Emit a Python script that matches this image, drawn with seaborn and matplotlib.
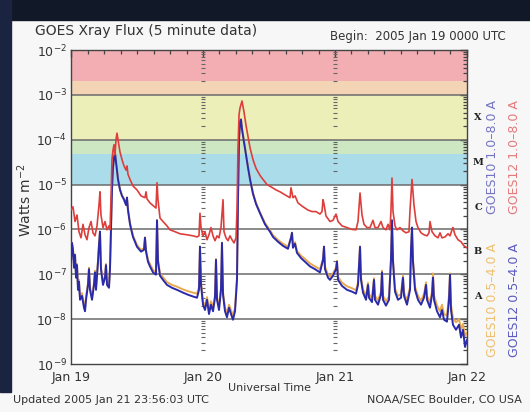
import numpy as np
import matplotlib
matplotlib.use("Agg")
import matplotlib.pyplot as plt
import matplotlib.transforms as mtransforms
from matplotlib.patches import Rectangle
from matplotlib.ticker import FixedLocator, LogLocator, NullFormatter
import seaborn as sns

# ---------------------------------------------------------------
# GOES X-ray flux, 5 minute data, starting 2005 Jan 19 00:00 UTC.
# Times are hours since the start, flux in W m^-2.
# ---------------------------------------------------------------
g12_long_hours = [
    0.0, 0.36, 0.73, 1.09, 1.45, 1.82, 2.18, 2.55, 2.91, 3.27, 3.64, 4.0, 4.36, 4.73,
    5.09, 5.27, 5.45, 5.82, 6.18, 6.55, 6.91, 7.09, 7.27, 7.45, 7.64, 7.82, 8.0, 8.18,
    8.36, 8.55, 8.91, 9.27, 9.64, 10.0, 10.18, 10.36, 10.73, 11.27, 12.0, 12.73, 13.45,
    13.64, 13.82, 14.36, 14.91, 15.45, 15.64, 15.82, 16.18, 16.73, 17.45, 18.0, 18.91,
    19.82, 21.09, 22.18, 22.91, 23.27, 23.45, 23.64, 24.0, 24.36, 24.73, 25.09, 25.45,
    25.82, 26.18, 26.55, 26.91, 27.27, 27.64, 27.82, 28.18, 28.55, 28.91, 29.27, 29.64,
    30.0, 30.18, 30.36, 30.55, 30.73, 31.09, 31.45, 31.82, 32.18, 32.55, 33.09, 33.64,
    34.36, 34.91, 35.64, 36.36, 37.27, 38.0, 38.91, 39.82, 40.0, 40.36, 40.73, 41.27,
    42.18, 43.09, 43.82, 44.55, 45.27, 45.64, 45.82, 46.0, 46.36, 47.09, 47.64, 48.18,
    48.55, 49.27, 50.18, 51.09, 51.82, 52.18, 52.55, 52.91, 53.27, 53.82, 54.36, 54.91,
    55.27, 55.82, 56.36, 56.73, 57.27, 57.64, 58.0, 58.18, 58.36, 58.55, 58.91, 59.27,
    59.82, 60.36, 60.91, 61.45, 61.64, 62.0, 62.36, 62.73, 63.09, 63.64, 64.18, 64.73,
    65.09, 65.27, 65.64, 66.18, 66.73, 67.09, 67.45, 68.0, 68.55, 68.91, 69.27, 69.45,
    69.82, 70.36, 70.91, 71.45, 72.0,
]
g12_long_flux = [
    2.7e-6, 3.2e-6, 1.5e-6, 2.1e-6, 8.9e-7, 6.5e-7, 1.3e-6, 7.6e-7, 5.9e-7, 1.1e-6,
    1.5e-6, 8.4e-7, 7.2e-7, 1.2e-6, 3.5e-6, 6.9e-6, 2.1e-6, 1.1e-6, 1.5e-6, 9.8e-7,
    1.2e-6, 9.8e-7, 4.6e-6, 3.6e-5, 5.9e-5, 7.7e-5, 4.6e-5, 9.9e-5, 1.4e-4, 9.9e-5,
    5.3e-5, 3.6e-5, 2.6e-5, 2.1e-5, 2.6e-5, 1.7e-5, 1.3e-5, 9.3e-6, 7.6e-6, 5.6e-6,
    5.1e-6, 6.9e-6, 4.8e-6, 3.9e-6, 3.4e-6, 3.0e-6, 1.1e-5, 4.6e-6, 1.8e-6, 1.5e-6,
    1.2e-6, 9.8e-7, 8.9e-7, 8.0e-7, 7.6e-7, 7.2e-7, 6.8e-7, 7.2e-7, 2.3e-6, 1.1e-6,
    7.2e-7, 8.9e-7, 5.9e-7, 7.6e-7, 1.1e-6, 7.2e-7, 5.6e-7, 7.2e-7, 6.5e-7, 1.1e-6,
    4.6e-6, 8.9e-7, 6.5e-7, 5.6e-7, 7.2e-7, 5.9e-7, 5.0e-7, 6.5e-7, 2.7e-6, 5.9e-5,
    3.6e-4, 5.1e-4, 7.3e-4, 4.2e-4, 2.1e-4, 1.2e-4, 6.6e-5, 3.6e-5, 2.3e-5, 1.6e-5,
    1.3e-5, 1.0e-5, 8.9e-6, 7.6e-6, 6.9e-6, 5.9e-6, 5.1e-6, 8.5e-6, 5.1e-6, 5.6e-6,
    3.9e-6, 3.2e-6, 2.7e-6, 2.5e-6, 2.5e-6, 2.2e-6, 2.5e-6, 4.6e-6, 3.7e-6, 2.0e-6,
    1.5e-6, 1.6e-6, 2.2e-6, 1.5e-6, 1.2e-6, 1.1e-6, 1.0e-6, 9.8e-7, 1.5e-6, 6.5e-6,
    2.1e-6, 1.3e-6, 1.1e-6, 1.1e-6, 1.6e-6, 1.1e-6, 1.1e-6, 1.5e-6, 1.1e-6, 9.8e-7,
    1.3e-6, 9.8e-7, 2.7e-6, 1.4e-5, 2.5e-6, 1.2e-6, 9.8e-7, 1.1e-6, 9.3e-7, 8.4e-7,
    8.9e-7, 2.7e-6, 1.3e-5, 3.5e-6, 1.5e-6, 1.1e-6, 8.4e-7, 7.6e-7, 7.2e-7, 8.4e-7,
    1.5e-6, 8.9e-7, 7.2e-7, 6.5e-7, 8.4e-7, 6.5e-7, 6.8e-7, 8.0e-7, 7.2e-7, 9.8e-7,
    1.1e-6, 7.6e-7, 5.9e-7, 5.3e-7, 4.3e-7, 3.9e-7,
]

g12_short_hours = [
    0.0, 0.18, 0.36, 0.55, 0.73, 0.91, 1.09, 1.27, 1.45, 1.64, 2.0, 2.36, 2.55, 2.73,
    3.09, 3.27, 3.45, 3.82, 4.18, 4.36, 4.55, 4.91, 5.09, 5.27, 5.45, 5.82, 6.18, 6.36,
    6.55, 6.91, 7.09, 7.27, 7.45, 7.64, 7.82, 8.0, 8.18, 8.55, 8.91, 9.27, 9.64, 10.0,
    10.18, 10.36, 10.73, 11.27, 12.0, 12.73, 13.27, 13.45, 13.64, 14.0, 14.36, 14.91,
    15.45, 15.64, 15.82, 16.18, 16.73, 17.45, 18.36, 19.27, 20.36, 21.27, 22.18, 22.91,
    23.27, 23.45, 23.64, 24.0, 24.36, 24.73, 25.09, 25.45, 25.82, 26.18, 26.36, 26.55,
    26.91, 27.27, 27.45, 27.64, 28.0, 28.36, 28.73, 29.09, 29.45, 29.82, 30.18, 30.36,
    30.55, 30.73, 30.91, 31.09, 31.45, 31.82, 32.18, 32.55, 33.09, 33.64, 34.36, 35.27,
    36.18, 36.73, 37.64, 38.55, 39.45, 40.0, 40.18, 40.36, 40.73, 41.09, 41.82, 42.55,
    43.45, 44.36, 45.27, 45.82, 46.0, 46.18, 46.73, 47.09, 47.64, 48.18, 48.36, 48.55,
    49.27, 50.18, 51.09, 51.82, 52.18, 52.55, 52.73, 53.09, 53.64, 54.0, 54.18, 54.73,
    55.09, 55.27, 55.82, 56.36, 56.55, 56.73, 57.27, 57.82, 58.18, 58.36, 58.55, 58.91,
    59.45, 60.0, 60.36, 60.55, 61.09, 61.64, 61.82, 62.0, 62.18, 62.55, 63.09, 63.64,
    64.18, 64.55, 64.73, 65.27, 65.64, 65.82, 66.0, 66.55, 67.09, 67.45, 67.82, 68.36,
    68.73, 68.91, 69.09, 69.45, 70.0, 70.55, 70.91, 71.27, 71.64, 72.0,
]
g12_short_flux = [
    1.9e-7, 5.0e-7, 3.5e-7, 1.4e-7, 2.7e-7, 8.4e-8, 1.6e-7, 4.5e-8, 6.8e-8, 2.7e-8,
    3.3e-8, 1.8e-8, 1.5e-8, 2.7e-8, 5.8e-8, 1.3e-7, 4.5e-8, 2.7e-8, 5.8e-8, 1.1e-7,
    4.5e-8, 1.9e-7, 4.5e-7, 8.9e-7, 1.3e-7, 5.8e-8, 8.4e-8, 1.6e-7, 5.8e-8, 5.0e-8,
    1.3e-7, 9.8e-7, 7.6e-6, 2.4e-5, 3.9e-5, 5.1e-5, 3.2e-5, 1.3e-5, 7.6e-6, 5.6e-6,
    4.6e-6, 3.5e-6, 5.1e-6, 2.7e-6, 1.3e-6, 6.8e-7, 4.1e-7, 3.2e-7, 3.5e-7, 6.5e-7,
    3.2e-7, 1.9e-7, 1.5e-7, 1.1e-7, 9.8e-8, 1.6e-6, 1.9e-7, 9.3e-8, 7.5e-8, 5.8e-8,
    5.0e-8, 4.5e-8, 3.9e-8, 3.5e-8, 3.2e-8, 3.0e-8, 4.5e-8, 4.1e-7, 5.8e-8, 2.1e-8,
    1.6e-8, 2.7e-8, 1.3e-8, 2.1e-8, 1.5e-8, 3.0e-8, 2.1e-7, 2.7e-8, 1.6e-8, 4.5e-8,
    5.0e-7, 3.5e-8, 1.5e-8, 1.1e-8, 1.8e-8, 1.3e-8, 9.7e-9, 1.5e-8, 7.5e-8, 4.6e-6,
    9.9e-5, 2.5e-4, 2.8e-4, 1.7e-4, 8.9e-5, 4.6e-5, 2.4e-5, 1.3e-5, 6.2e-6, 3.7e-6,
    2.3e-6, 1.3e-6, 8.9e-7, 6.8e-7, 5.3e-7, 4.3e-7, 3.7e-7, 6.5e-7, 8.4e-7, 3.9e-7,
    4.8e-7, 3.0e-7, 2.3e-7, 1.9e-7, 1.5e-7, 1.3e-7, 1.1e-7, 2.1e-7, 4.1e-7, 1.3e-7,
    8.4e-8, 7.5e-8, 9.3e-8, 1.3e-7, 1.9e-7, 7.5e-8, 5.5e-8, 4.5e-8, 4.1e-8, 3.7e-8,
    5.8e-8, 4.1e-7, 7.5e-8, 3.9e-8, 2.7e-8, 5.8e-8, 3.0e-8, 2.4e-8, 7.5e-8, 2.7e-8,
    2.1e-8, 3.5e-8, 1.1e-7, 2.7e-8, 2.0e-8, 2.7e-8, 2.1e-7, 1.6e-6, 1.9e-7, 4.1e-8,
    2.7e-8, 3.0e-8, 8.4e-8, 3.3e-8, 2.1e-8, 4.5e-8, 3.5e-7, 1.1e-6, 1.9e-7, 4.5e-8,
    2.7e-8, 2.1e-8, 3.0e-8, 5.8e-8, 2.7e-8, 1.8e-8, 3.5e-8, 8.4e-8, 2.7e-8, 1.5e-8,
    1.1e-8, 1.6e-8, 9.7e-9, 8.8e-9, 2.7e-8, 9.8e-8, 1.6e-8, 7.5e-9, 5.8e-9, 7.5e-9,
    3.9e-9, 5.8e-9, 2.4e-9, 3.5e-9,
]

# GOES10 short channel, sampled at the same times as GOES12
g10_short_hours = list(g12_short_hours)
g10_short_flux = [
    2.1e-7, 5.0e-7, 3.6e-7, 1.6e-7, 2.8e-7, 9.5e-8, 1.7e-7, 5.2e-8, 7.5e-8, 3.1e-8,
    3.8e-8, 2.1e-8, 1.8e-8, 3.1e-8, 6.4e-8, 1.4e-7, 5.2e-8, 3.1e-8, 6.4e-8, 1.2e-7,
    5.2e-8, 2.0e-7, 4.6e-7, 9.0e-7, 1.4e-7, 6.5e-8, 9.2e-8, 1.7e-7, 6.5e-8, 5.7e-8,
    1.4e-7, 1.0e-6, 7.8e-6, 2.5e-5, 4.0e-5, 5.3e-5, 3.3e-5, 1.35e-5, 7.9e-6, 5.8e-6,
    4.8e-6, 3.6e-6, 5.2e-6, 2.8e-6, 1.4e-6, 7.3e-7, 4.5e-7, 3.5e-7, 3.8e-7, 6.7e-7,
    3.5e-7, 2.1e-7, 1.7e-7, 1.25e-7, 1.1e-7, 1.6e-6, 2.1e-7, 1.05e-7, 8.6e-8, 6.7e-8,
    5.8e-8, 5.3e-8, 4.6e-8, 4.2e-8, 3.9e-8, 3.7e-8, 5.2e-8, 4.2e-7, 6.6e-8, 2.5e-8,
    1.9e-8, 3.1e-8, 1.6e-8, 2.5e-8, 1.8e-8, 3.4e-8, 2.2e-7, 3.1e-8, 1.9e-8, 5.0e-8,
    5.1e-7, 4.0e-8, 1.8e-8, 1.35e-8, 2.1e-8, 1.6e-8, 1.2e-8, 1.8e-8, 8.2e-8, 4.7e-6,
    1.0e-4, 2.6e-4, 2.9e-4, 1.8e-4, 9.3e-5, 4.8e-5, 2.5e-5, 1.4e-5, 6.6e-6, 3.9e-6,
    2.4e-6, 1.4e-6, 9.6e-7, 7.4e-7, 5.8e-7, 4.8e-7, 4.1e-7, 6.7e-7, 8.5e-7, 4.3e-7,
    5.2e-7, 3.3e-7, 2.6e-7, 2.2e-7, 1.75e-7, 1.5e-7, 1.3e-7, 2.2e-7, 4.2e-7, 1.5e-7,
    9.8e-8, 8.8e-8, 1.05e-7, 1.4e-7, 2.0e-7, 8.8e-8, 6.5e-8, 5.4e-8, 4.9e-8, 4.4e-8,
    6.6e-8, 4.2e-7, 8.5e-8, 4.6e-8, 3.3e-8, 6.5e-8, 3.6e-8, 2.9e-8, 8.2e-8, 3.3e-8,
    2.6e-8, 4.1e-8, 1.2e-7, 3.3e-8, 2.5e-8, 3.2e-8, 2.2e-7, 1.6e-6, 2.1e-7, 4.8e-8,
    3.3e-8, 3.6e-8, 9.3e-8, 3.9e-8, 2.6e-8, 5.2e-8, 3.6e-7, 1.1e-6, 2.1e-7, 5.3e-8,
    3.3e-8, 2.6e-8, 3.6e-8, 6.6e-8, 3.3e-8, 2.3e-8, 4.2e-8, 1.05e-7, 3.4e-8, 2.0e-8,
    1.5e-8, 2.1e-8, 1.3e-8, 1.2e-8, 3.4e-8, 1.05e-7, 2.1e-8, 1.05e-8, 8.5e-9, 1.0e-8,
    6.0e-9, 7.8e-9, 4.2e-9, 5.0e-9,
]

day_labels = ["Jan 19", "Jan 20", "Jan 21", "Jan 22"]
day_hours = [0, 24, 48, 72]

# flare class levels (lower bound of each class)
class_names = ["X", "M", "C", "B", "A"]
class_levels = [1e-4, 1e-5, 1e-6, 1e-7, 1e-8]
grid_levels = [1e-3, 1e-4, 1e-5, 1e-6, 1e-7, 1e-8]

# coloured background bands (low, high, colour)
band_low = [2.0e-3, 1e-3, 1e-4, 4.7e-5, 1e-5]
band_high = [1e-2, 2.0e-3, 1e-3, 1e-4, 4.7e-5]
band_colors = ["#F2AEB3", "#F3D5B6", "#EDEFB9", "#CDE7C3", "#ABDCEA"]

W, H = 530, 412

sns.set_theme(style="white")
plt.rcParams["font.family"] = ["DejaVu Sans"]
plt.rcParams["mathtext.fontset"] = "dejavusans"

fig = plt.figure(figsize=(W / 100, H / 100), dpi=100, facecolor="#F7F7F8")
ax = fig.add_axes([71 / W, 1 - 364 / H, 396 / W, 314 / H])
ax.set_facecolor("white")
ax.set_yscale("log")
ax.set_xlim(0, 72)
ax.set_ylim(1e-9, 1e-2)

for lo, hi, c in zip(band_low, band_high, band_colors):
    ax.axhspan(lo, hi, color=c, lw=0, zorder=0)
for lev in grid_levels:
    ax.axhline(lev, color="#6B6B6B", lw=1.1, zorder=1)

# log tick marks repeated along the day boundaries
minor_vals = [m * 10.0 ** e for e in range(-9, -2) for m in range(2, 10)]
for d in day_hours[1:3]:
    ax.plot([d] * len(minor_vals), minor_vals, ls="none", marker="_",
            ms=3, mew=0.8, color="#666666", zorder=2)

sns.lineplot(x=g10_short_hours, y=g10_short_flux, ax=ax, color="#E9A94F",
             lw=1.4, estimator=None, sort=False, legend=False, zorder=3)
sns.lineplot(x=g12_short_hours, y=g12_short_flux, ax=ax, color="#2B2BAA",
             lw=1.4, estimator=None, sort=False, legend=False, zorder=4)
sns.lineplot(x=g12_long_hours, y=g12_long_flux, ax=ax, color="#DE3E3B",
             lw=1.2, estimator=None, sort=False, legend=False, zorder=5)

ax.set_xticks(day_hours)
ax.set_xticklabels(day_labels)
ax.xaxis.set_minor_locator(FixedLocator(list(range(0, 73, 3))))
ax.yaxis.set_major_locator(LogLocator(base=10, numticks=20))
ax.yaxis.set_minor_locator(LogLocator(base=10, subs=np.arange(2, 10), numticks=20))
ax.yaxis.set_minor_formatter(NullFormatter())
ax.tick_params(which="both", direction="in", top=True, right=True,
               color="#444444", labelcolor="#333333", labelsize=9)
ax.tick_params(which="major", length=5, width=1)
ax.tick_params(which="minor", length=3, width=0.9)
ax.tick_params(axis="x", which="major", pad=5)
ax.tick_params(axis="y", which="major", pad=3)
for s in ax.spines.values():
    s.set_color("#444444")
    s.set_linewidth(1.0)

# flare class letters beside the right axis
trans = mtransforms.blended_transform_factory(ax.transAxes, ax.transData)
for name, lev in zip(class_names, class_levels):
    ax.text(1.028, lev * 10 ** 0.5, name, transform=trans, ha="center",
            va="center", fontsize=7, fontweight="bold",
            family="DejaVu Serif", color="#222222")

# dark screen frame
fig.add_artist(Rectangle((0, 1 - 20 / H), 1, 20 / H, transform=fig.transFigure,
                         color="#111827", zorder=10))
fig.add_artist(Rectangle((0, 1 - 392 / H), 11 / W, 392 / H, transform=fig.transFigure,
                         color="#1A2440", zorder=10))

tc = "#333333"
fig.text(35 / W, 1 - 35 / H, "GOES Xray Flux (5 minute data)", fontsize=10,
         color=tc, va="baseline", ha="left")
fig.text(330 / W, 1 - 40 / H, "Begin:  2005 Jan 19 0000 UTC", fontsize=8.5,
         color=tc, va="baseline", ha="left")
fig.text(25 / W, 1 - 200 / H, "Watts m$^{-2}$", fontsize=10, rotation=90,
         color=tc, va="center", ha="center")
fig.text(270 / W, 1 - 388 / H, "Universal Time", fontsize=8, color=tc,
         va="center", ha="center")
fig.text(13 / W, 1 - 400 / H, "Updated 2005 Jan 21 23:56:03 UTC", fontsize=8,
         color=tc, va="center", ha="left")
fig.text(367 / W, 1 - 400 / H, "NOAA/SEC Boulder, CO USA", fontsize=8,
         color=tc, va="center", ha="left")

# channel key along the right edge
fig.text(493 / W, 1 - 157 / H, "GOES10 1.0\u20138.0 A", fontsize=9, rotation=90,
         color="#7474C4", va="center", ha="center")
fig.text(515 / W, 1 - 157 / H, "GOES12 1.0\u20138.0 A", fontsize=9, rotation=90,
         color="#E77A7A", va="center", ha="center")
fig.text(493 / W, 1 - 300 / H, "GOES10 0.5\u20134.0 A", fontsize=9, rotation=90,
         color="#EEC070", va="center", ha="center")
fig.text(515 / W, 1 - 300 / H, "GOES12 0.5\u20134.0 A", fontsize=9, rotation=90,
         color="#5A5AC0", va="center", ha="center")

fig.savefig("out.png", dpi=100, facecolor=fig.get_facecolor())
